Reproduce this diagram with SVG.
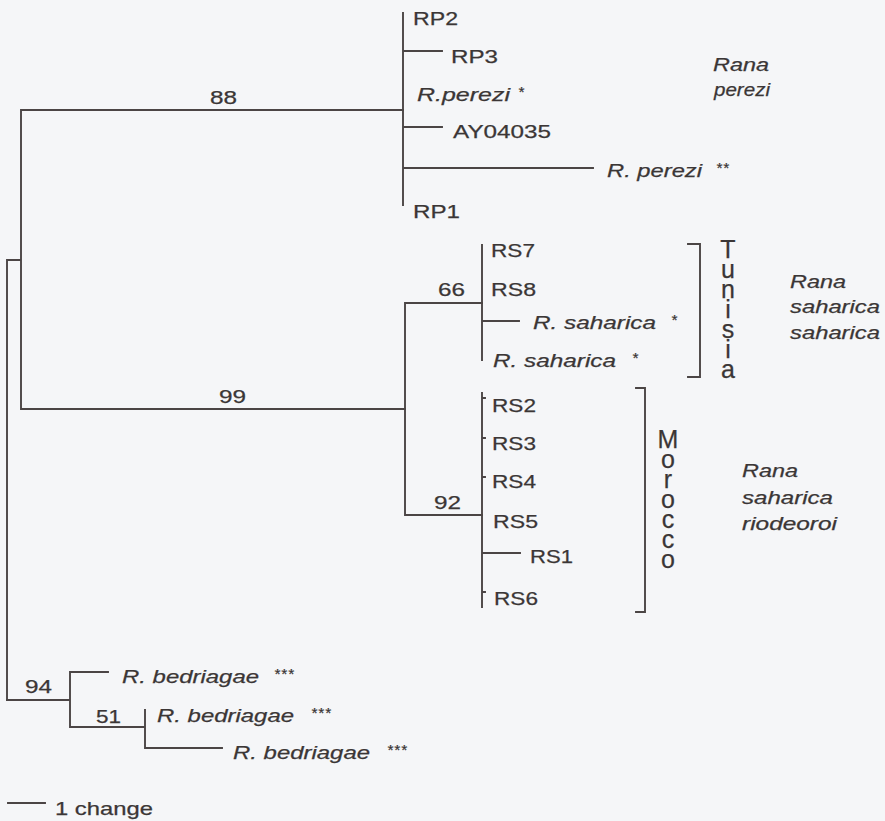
<svg xmlns="http://www.w3.org/2000/svg" width="885" height="821" viewBox="0 0 885 821">
<style>
.bg{fill:#f5f6f8}
.br{stroke:#4b4545;stroke-width:1.9;fill:none;stroke-linecap:square}
text{font-family:"Liberation Sans",Arial,sans-serif;fill:#3b3636;stroke:#3b3636;stroke-width:0.25}
.lb{font-size:19px}
.it{font-style:italic}
.st{font-size:15px;letter-spacing:1px}
.bs{font-size:19px}
.vl{font-size:25px;letter-spacing:-8px;writing-mode:vertical-rl;text-orientation:upright}
</style>
<rect class="bg" x="0" y="0" width="885" height="821"/>
<g id="connectors">
<path class="br" d="M7,260 V700 M7,260 H21 M21,110 V409 M21,110 H403 M21,409 H405"/>
<path class="br" d="M403,13 V205 M403,51 H442 M403,127 H442 M403,168 H593"/>
<path class="br" d="M405,303 V515 M405,303 H482 M405,515 H482"/>
<path class="br" d="M482,245 V360 M482,321 H519"/>
<path class="br" d="M482,393 V607 M482,553 H520 M482,398 H485 M482,438 H485 M482,477 H485 M482,592 H485"/>
<path class="br" d="M7,700 H70 M70,672 V727 M70,672 H108 M70,727 H145 M145,710 V748 M145,748 H222"/>
</g>
<g id="support">
<text class="bs" x="210" y="104" textLength="27" lengthAdjust="spacingAndGlyphs">88</text>
<text class="bs" x="219" y="403" textLength="27" lengthAdjust="spacingAndGlyphs">99</text>
<text class="bs" x="438" y="296" textLength="27" lengthAdjust="spacingAndGlyphs">66</text>
<text class="bs" x="434" y="509" textLength="27" lengthAdjust="spacingAndGlyphs">92</text>
<text class="bs" x="25" y="693" textLength="27" lengthAdjust="spacingAndGlyphs">94</text>
<text class="bs" x="96" y="723" textLength="25" lengthAdjust="spacingAndGlyphs">51</text>
</g>
<g id="perezi">
<text class="lb" x="413" y="25" textLength="45" lengthAdjust="spacingAndGlyphs">RP2</text>
<text class="lb" x="451" y="63" textLength="47" lengthAdjust="spacingAndGlyphs">RP3</text>
<text class="lb it" x="417" y="101" textLength="93" lengthAdjust="spacingAndGlyphs">R.perezi</text><text class="st it" x="518" y="97">*</text>
<text class="lb" x="453" y="138" textLength="98" lengthAdjust="spacingAndGlyphs">AY04035</text>
<text class="lb it" x="607" y="177" textLength="95" lengthAdjust="spacingAndGlyphs">R. perezi</text><text class="st it" x="716" y="173">**</text>
<text class="lb" x="413" y="218" textLength="47" lengthAdjust="spacingAndGlyphs">RP1</text>
<text class="lb it" x="713" y="71" textLength="56" lengthAdjust="spacingAndGlyphs">Rana</text>
<text class="lb it" x="714" y="96" textLength="56" lengthAdjust="spacingAndGlyphs">perezi</text>
</g>
<g id="tunisia">
<text class="lb" x="491" y="257" textLength="44" lengthAdjust="spacingAndGlyphs">RS7</text>
<text class="lb" x="491" y="296" textLength="45" lengthAdjust="spacingAndGlyphs">RS8</text>
<text class="lb it" x="533" y="329" textLength="123" lengthAdjust="spacingAndGlyphs">R. saharica</text><text class="st it" x="671" y="325">*</text>
<text class="lb it" x="493" y="367" textLength="123" lengthAdjust="spacingAndGlyphs">R. saharica</text><text class="st it" x="632" y="363">*</text>
<path class="br" d="M688,244 H700 V377 H688"/>
<text class="vl" x="728" y="235">Tunisia</text>
<text class="lb it" x="790" y="288" textLength="56" lengthAdjust="spacingAndGlyphs">Rana</text>
<text class="lb it" x="790" y="313" textLength="90" lengthAdjust="spacingAndGlyphs">saharica</text>
<text class="lb it" x="790" y="339" textLength="90" lengthAdjust="spacingAndGlyphs">saharica</text>
</g>
<g id="morocco">
<text class="lb" x="492" y="412" textLength="44" lengthAdjust="spacingAndGlyphs">RS2</text>
<text class="lb" x="492" y="450" textLength="44" lengthAdjust="spacingAndGlyphs">RS3</text>
<text class="lb" x="492" y="488" textLength="44" lengthAdjust="spacingAndGlyphs">RS4</text>
<text class="lb" x="493" y="528" textLength="45" lengthAdjust="spacingAndGlyphs">RS5</text>
<text class="lb" x="530" y="563" textLength="43" lengthAdjust="spacingAndGlyphs">RS1</text>
<text class="lb" x="494" y="605" textLength="44" lengthAdjust="spacingAndGlyphs">RS6</text>
<path class="br" d="M636,388 H645 V612 H636"/>
<text class="vl" x="668" y="425">Morocco</text>
<text class="lb it" x="742" y="477" textLength="56" lengthAdjust="spacingAndGlyphs">Rana</text>
<text class="lb it" x="742" y="504" textLength="91" lengthAdjust="spacingAndGlyphs">saharica</text>
<text class="lb it" x="742" y="530" textLength="95" lengthAdjust="spacingAndGlyphs">riodeoroi</text>
</g>
<g id="bedriagae">
<text class="lb it" x="122" y="683" textLength="137" lengthAdjust="spacingAndGlyphs">R. bedriagae</text><text class="st it" x="274" y="679">***</text>
<text class="lb it" x="157" y="722" textLength="137" lengthAdjust="spacingAndGlyphs">R. bedriagae</text><text class="st it" x="311" y="718">***</text>
<text class="lb it" x="233" y="759" textLength="137" lengthAdjust="spacingAndGlyphs">R. bedriagae</text><text class="st it" x="387" y="755">***</text>
</g>
<g id="scale">
<path class="br" d="M8,803 H45"/>
<text class="lb" x="55" y="815" textLength="98" lengthAdjust="spacingAndGlyphs">1 change</text>
</g>
</svg>
